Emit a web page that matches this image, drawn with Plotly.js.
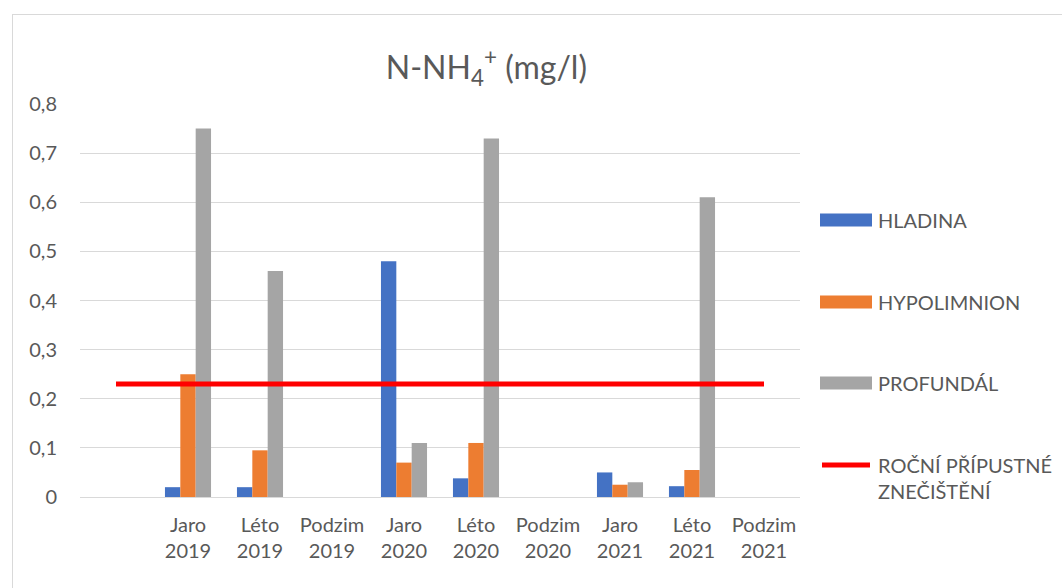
<!DOCTYPE html>
<html><head><meta charset="utf-8">
<script src="https://cdn.plot.ly/plotly-3.0.1.min.js"></script>
<style>
html,body{margin:0;padding:0;background:#fff;}
#wrap{position:relative;width:1062px;height:588px;}
#chart{width:1062px;height:588px;}
#frame{position:absolute;left:12px;top:14px;width:1060px;height:580px;border:1px solid #D9D9D9;pointer-events:none;}
</style></head>
<body>
<div id="wrap"><div id="chart"></div><div id="frame"></div></div>
<script>
const categories = [' ', 'Jaro<br>2019', 'Léto<br>2019', 'Podzim<br>2019', 'Jaro<br>2020', 'Léto<br>2020', 'Podzim<br>2020', 'Jaro<br>2021', 'Léto<br>2021', 'Podzim<br>2021'];
const hladina     = [null, 0.02, 0.02, null, 0.48, 0.038, null, 0.05, 0.022, null];
const hypolimnion = [null, 0.25, 0.095, null, 0.07, 0.11, null, 0.025, 0.055, null];
const profundal   = [null, 0.75, 0.46, null, 0.11, 0.73, null, 0.03, 0.61, null];
const limit       = [0.23, 0.23, 0.23, 0.23, 0.23, 0.23, 0.23, 0.23, 0.23, 0.23];
const seriesNames = ['HLADINA', 'HYPOLIMNION', 'PROFUNDÁL', 'ROČNÍ PŘÍPUSTNÉ<br>ZNEČIŠTĚNÍ'];
const seriesColors = ['#4472C4', '#ED7D31', '#A5A5A5', '#FF0000'];

const font = 'Lato, "Open Sans", sans-serif';
const M = {l:80, r:262, t:104, b:91};
const W = 1062, H = 588;
const pw = W - M.l - M.r, ph = H - M.t - M.b;
const px = v => (v - M.l) / pw;
const py = v => (H - M.b - v) / ph;

const traces = [
  {type:'bar', x:categories, y:hladina, name:seriesNames[0], marker:{color:seriesColors[0]}},
  {type:'bar', x:categories, y:hypolimnion, name:seriesNames[1], marker:{color:seriesColors[1]}},
  {type:'bar', x:categories, y:profundal, name:seriesNames[2], marker:{color:seriesColors[2]}},
  {type:'scatter', mode:'lines', x:categories, y:limit, name:seriesNames[3], line:{color:seriesColors[3], width:5}}
];

// custom legend (wide swatches like the original)
const legendY = [220, 302, 383, 465];
const shapes = [];
const annotations = [];
for (let i = 0; i < 4; i++) {
  if (i < 3) {
    shapes.push({type:'rect', xref:'paper', yref:'paper', x0:px(820), x1:px(872), y0:py(legendY[i]+6.5), y1:py(legendY[i]-6.5), fillcolor:seriesColors[i], line:{width:0}});
    annotations.push({xref:'paper', yref:'paper', x:px(876), y:py(legendY[i]), xanchor:'left', yanchor:'middle', text:seriesNames[i], showarrow:false, font:{family:font, size:20, color:'#595959'}});
  } else {
    shapes.push({type:'line', xref:'paper', yref:'paper', x0:px(822), x1:px(870), y0:py(legendY[i]), y1:py(legendY[i]), line:{color:seriesColors[i], width:5}});
    annotations.push({xref:'paper', yref:'paper', x:px(876), y:py(legendY[i]-14), xanchor:'left', yanchor:'top', align:'left', text:seriesNames[i], showarrow:false, font:{family:font, size:20, color:'#595959'}});
  }
}

const layout = {
  width:W, height:H,
  margin:M,
  paper_bgcolor:'#fff', plot_bgcolor:'#fff',
  separators:', ',
  font:{family:font, color:'#595959', size:20},
  title:{text:'N-NH<sub>4</sub><sup>+</sup> (mg/l)', font:{family:font, size:32, color:'#595959'}, x:0.458, xanchor:'center', y:0.885, yanchor:'middle'},
  barmode:'group', bargap:0.36, bargroupgap:0,
  xaxis:{type:'category', showgrid:false, showline:false, zeroline:false, ticks:'', tickfont:{size:20, color:'#595959'}, ticklabelstandoff:14, fixedrange:true},
  yaxis:{range:[0,0.8], dtick:0.1, tickformat:'.1~f', showgrid:true, gridcolor:'#D9D9D9', gridwidth:1, zeroline:true, zerolinecolor:'#D9D9D9', zerolinewidth:1, showline:false, ticks:'', tickfont:{size:20, color:'#595959'}, ticklabelstandoff:22, fixedrange:true},
  showlegend:false,
  shapes:shapes,
  annotations:annotations
};
Plotly.newPlot('chart', traces, layout, {displayModeBar:false, staticPlot:true});
</script>
</body></html>
